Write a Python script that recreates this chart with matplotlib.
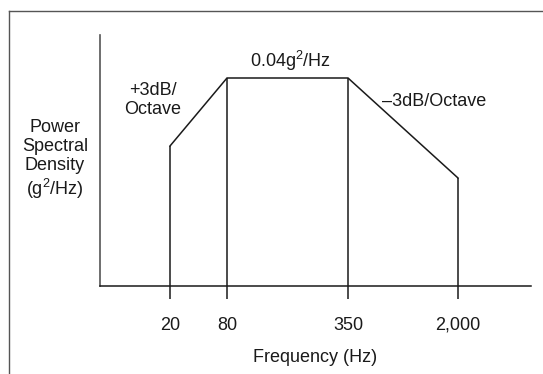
import numpy as np
import matplotlib
matplotlib.use("Agg")
import matplotlib.pyplot as plt
from matplotlib.lines import Line2D

plt.rcParams['font.family'] = ['Liberation Sans', 'DejaVu Sans']
plt.rcParams['mathtext.fontset'] = 'custom'
plt.rcParams['mathtext.rm'] = 'Liberation Sans'

# -----------------------------------------------------------------------
# Data: random-vibration PSD profile (schematic)
# -----------------------------------------------------------------------
freq_hz = [20, 80, 350, 2000]
psd_g2hz = [0.01, 0.04, 0.04, 0.007]
tick_labels = ['20', '80', '350', '2,000']

# schematic (non-proportional) axis mapping, value -> axis units
x_knots = [1, 20, 80, 350, 2000, 5000]
x_units = [0, 70, 127, 248, 358, 431]
y_knots = [0, 0.007, 0.01, 0.04, 0.06]
y_units = [0, 108, 140, 208, 251]


def fwd_x(v):
    return np.interp(v, x_knots, x_units)


def inv_x(v):
    return np.interp(v, x_units, x_knots)


def fwd_y(v):
    return np.interp(v, y_knots, y_units)


def inv_y(v):
    return np.interp(v, y_units, y_knots)


W, H = 543, 374
fig = plt.figure(figsize=(W / 100, H / 100), dpi=100)
ax = fig.add_axes([100 / W, (H - 286) / H, 431 / W, 251 / H])

ax.set_xscale('function', functions=(fwd_x, inv_x))
ax.set_yscale('function', functions=(fwd_y, inv_y))
ax.set_xlim(1, 5000)
ax.set_ylim(0, 0.06)

ink = '#1a1a1a'
ax.plot(freq_hz, psd_g2hz, color=ink, lw=1.1, solid_joinstyle='miter')
ax.vlines(freq_hz, 0, psd_g2hz, color=ink, lw=1.1)

ax.set_xticks(freq_hz)
ax.set_xticklabels(tick_labels)
ax.xaxis.set_minor_locator(plt.NullLocator())
ax.set_yticks([])
ax.yaxis.set_minor_locator(plt.NullLocator())
ax.tick_params(axis='x', direction='out', length=9.5, width=1.1,
               color=ink, pad=12.5, labelsize=13, labelcolor=ink)

for s in ['top', 'right']:
    ax.spines[s].set_visible(False)
ax.spines['bottom'].set_color(ink)
ax.spines['bottom'].set_linewidth(1.1)
ax.spines['left'].set_color('#555555')
ax.spines['left'].set_linewidth(1.2)
ax.patch.set_alpha(0)

ax.set_xlabel('Frequency (Hz)', fontsize=13, color=ink, labelpad=11)


def ftext(x, y, s, **kw):
    fig.text(x / W, 1 - y / H, s, fontsize=13, color=ink, va='center', **kw)


ftext(290, 61, r'0.04g$^\mathregular{2}$/Hz', ha='center')
ftext(153, 100, '+3dB/\nOctave', ha='center', multialignment='center',
      linespacing=1.1)
ftext(382, 102, '\u20133dB/Octave', ha='left')
ftext(55, 160, 'Power\nSpectral\nDensity\n(g$^\\mathregular{2}$/Hz)',
      ha='center', multialignment='center', linespacing=1.15)

# scanned page frame
fig.add_artist(Line2D([9 / W, 1], [1 - 11 / H, 1 - 11 / H],
                      transform=fig.transFigure, color='#555555', lw=1.0))
fig.add_artist(Line2D([9 / W, 9 / W], [0, 1 - 11 / H],
                      transform=fig.transFigure, color='#555555', lw=1.0))

fig.savefig('out.png', dpi=100)
